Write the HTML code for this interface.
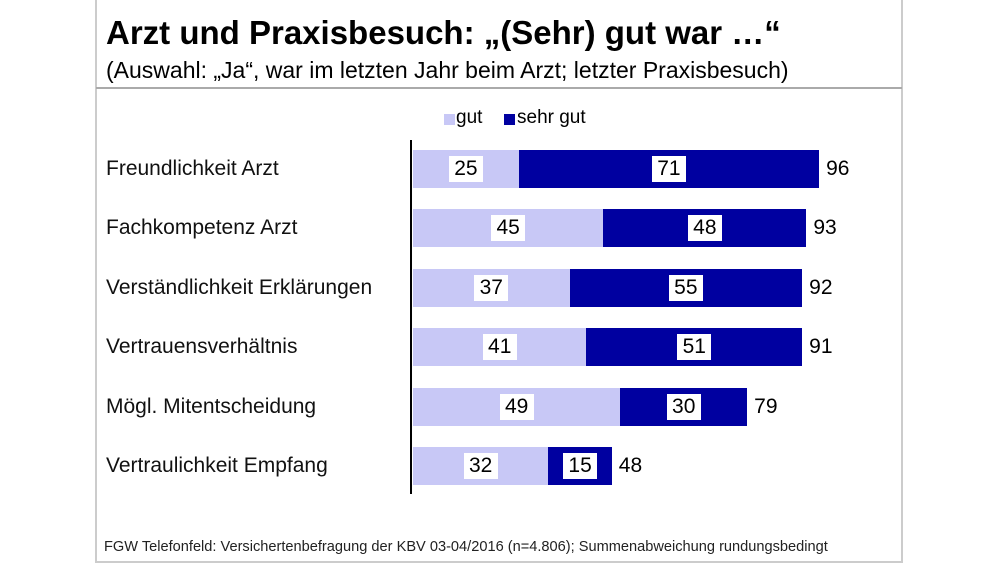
<!DOCTYPE html>
<html><head><meta charset="utf-8"><style>
body{margin:0;width:1000px;height:563px;background:#fff;font-family:"Liberation Sans",Arial,sans-serif;position:relative;overflow:hidden}
.a{position:absolute}
.lbl{position:absolute;left:106px;font-size:21px;color:#111;line-height:22px;white-space:nowrap}
.bar{position:absolute;height:38px}
.l{background:#c8c8f6}.d{background:#0000a0}
.box{position:absolute;background:#fff;font-size:21px;line-height:26px;height:26px;text-align:center;color:#000}
.tot{position:absolute;font-size:21px;line-height:26px;color:#000}
</style></head><body>
<div class="a" style="left:95px;top:0;width:2px;height:563px;background:#ccc"></div>
<div class="a" style="left:901px;top:0;width:2px;height:563px;background:#ccc"></div>
<div class="a" style="left:95px;top:561px;width:808px;height:2px;background:#ccc"></div>
<div class="a" style="left:96px;top:87px;width:806px;height:2px;background:#aaa"></div>
<div class="a" style="left:106px;top:14px;font-size:33px;font-weight:bold;color:#000;white-space:nowrap">Arzt und Praxisbesuch: „(Sehr) gut war …“</div>
<div class="a" style="left:106px;top:57px;font-size:23px;color:#000;white-space:nowrap">(Auswahl: „Ja“, war im letzten Jahr beim Arzt; letzter Praxisbesuch)</div>
<div class="a" style="left:444px;top:114px;width:11px;height:11px;background:#c8c8f6"></div>
<div class="a" style="left:456px;top:107px;font-size:19px">gut</div>
<div class="a" style="left:504px;top:114px;width:11px;height:11px;background:#0000a0"></div>
<div class="a" style="left:517px;top:107px;font-size:19px">sehr gut</div>
<div class="a" style="left:410px;top:140px;width:2px;height:354px;background:#000"></div>
<div class="a" style="left:104px;top:539px;font-size:14.6px;color:#222;white-space:nowrap">FGW Telefonfeld: Versichertenbefragung der KBV 03-04/2016 (n=4.806); Summenabweichung rundungsbedingt</div>
<div id="c"></div>
<script>
var rows=[["Freundlichkeit Arzt",25,71,96],["Fachkompetenz Arzt",45,48,93],["Verständlichkeit Erklärungen",37,55,92],["Vertrauensverhältnis",41,51,91],["Mögl. Mitentscheidung",49,30,79],["Vertraulichkeit Empfang",32,15,48]];
var h="",s=4.23,x0=413;
rows.forEach(function(r,i){var cy=169+i*59.4,t=cy-19;
var w1=r[1]*s,w2=r[2]*s;
h+='<div class="lbl" style="top:'+(cy-11)+'px">'+r[0]+'</div>';
h+='<div class="bar l" style="left:'+x0+'px;top:'+t+'px;width:'+w1+'px"></div>';
h+='<div class="bar d" style="left:'+(x0+w1)+'px;top:'+t+'px;width:'+w2+'px"></div>';
h+='<div class="box" style="left:'+(x0+w1/2-17)+'px;top:'+(cy-13)+'px;width:34px">'+r[1]+'</div>';
h+='<div class="box" style="left:'+(x0+w1+w2/2-17)+'px;top:'+(cy-13)+'px;width:34px">'+r[2]+'</div>';
h+='<div class="tot" style="left:'+(x0+w1+w2+7)+'px;top:'+(cy-13)+'px">'+r[3]+'</div>';});
document.getElementById("c").innerHTML=h;
</script>
</body></html>
